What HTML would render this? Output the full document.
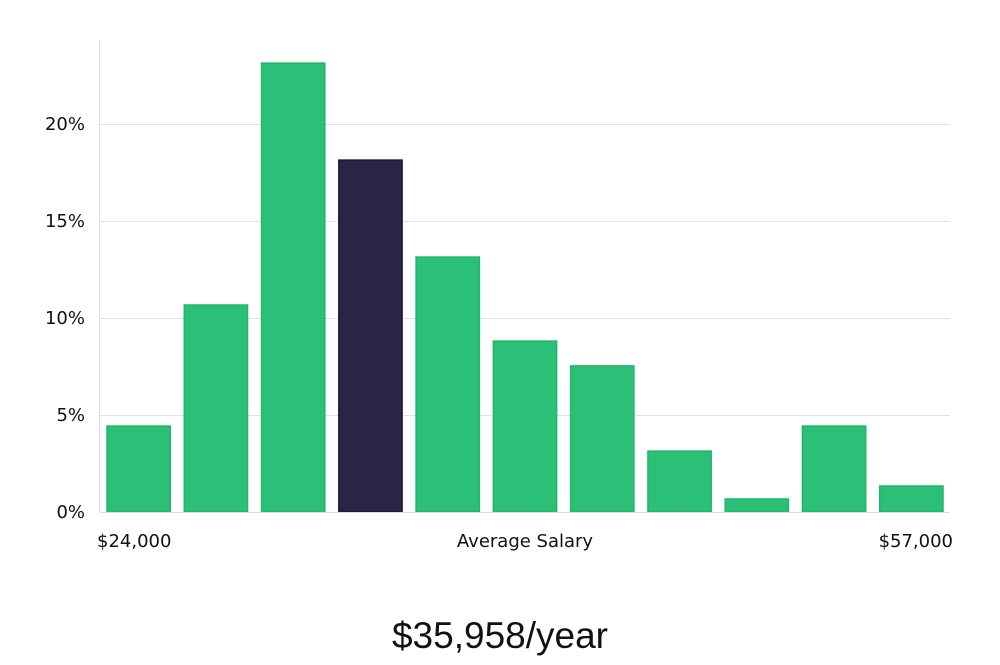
<!DOCTYPE html>
<html><head><meta charset="utf-8"><style>
body{margin:0;background:#fff;width:1000px;height:660px;overflow:hidden}
svg text{font-family:"DejaVu Sans","Liberation Sans",sans-serif}
</style></head><body>
<svg id="chart" width="1000" height="660">
<g id="grid"></g><g id="bars"></g><g id="labels"></g>
<line x1="99.5" y1="40" x2="99.5" y2="512" stroke="#ddd"/>
<line x1="99.5" y1="512.5" x2="950" y2="512.5" stroke="#ddd"/>
<text x="97" y="547" font-size="18" fill="#111">$24,000</text>
<text x="525" y="547" font-size="18" fill="#111" text-anchor="middle">Average Salary</text>
<text x="953" y="547" font-size="18" fill="#111" text-anchor="end">$57,000</text>
<text x="500" y="648" font-size="37" fill="#111" text-anchor="middle" style="font-family:'Liberation Sans',sans-serif;font-weight:300">$35,958/year</text>
</svg>
<script>
const values=[4.43,10.67,23.14,18.14,13.14,8.81,7.53,3.14,0.67,4.43,1.34];
const highlight=[false,false,false,true,false,false,false,false,false,false,false];
const ticks=[0,5,10,15,20];
const tickLabels=["0%","5%","10%","15%","20%"];
const ns="http://www.w3.org/2000/svg";
const left=100,right=950,y0=512,pxPer=19.4;
const y=v=>y0-v*pxPer;
const band=(right-left)/values.length;
const x=i=>left+i*band;
const grid=document.getElementById('grid'),bars=document.getElementById('bars'),labels=document.getElementById('labels');
ticks.forEach((t,i)=>{
 if(t>0){const l=document.createElementNS(ns,'line');
 
 
 l.setAttribute('x1',left);l.setAttribute('x2',right);l.setAttribute('y1',y(t)+0.5);l.setAttribute('y2',y(t)+0.5);l.setAttribute('stroke','#e0e0e0');grid.appendChild(l);}
 const tx=document.createElementNS(ns,'text');
 
 
 tx.setAttribute('x',85);tx.setAttribute('y',y(t)+6);tx.setAttribute('text-anchor','end');tx.setAttribute('font-size','18');tx.setAttribute('fill','#111');tx.textContent=tickLabels[i];labels.appendChild(tx);
});
values.forEach((v,i)=>{
 const r=document.createElementNS(ns,'rect');
 
 
 r.setAttribute('x',x(i)+7);r.setAttribute('width',band-14);r.setAttribute('y',y(v));r.setAttribute('height',v*pxPer);
 r.setAttribute('fill',highlight[i]?'#2a2547':'#2bbf78');
 r.setAttribute('stroke',highlight[i]?'#1d1838':'#22b56c');r.setAttribute('stroke-width','1.5');
 bars.appendChild(r);
});
</script>
</body></html>
